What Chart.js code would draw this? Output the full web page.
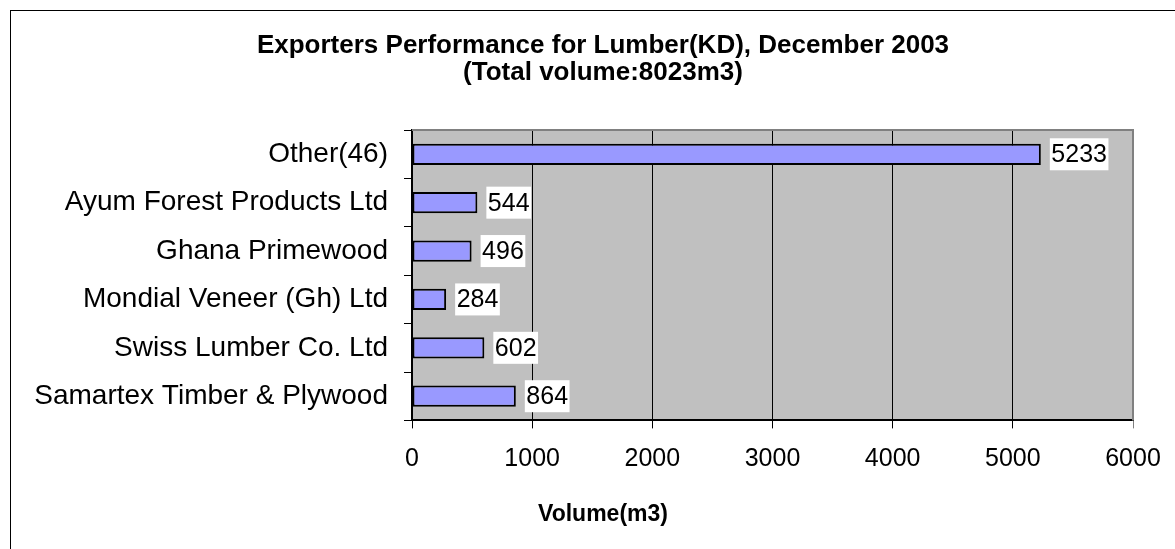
<!DOCTYPE html>
<html lang="en">

<head>
  <meta charset="UTF-8">
  <title>Exporters Performance for Lumber</title>
  <script src="https://cdn.jsdelivr.net/npm/chart.js@4/dist/chart.umd.min.js"></script>
</head>
<style>
  body { margin: 0; overflow: hidden; background: #fff; }
  #wrap { position: absolute; left: 0; top: 0; width: 1196px; height: 570px; }
</style>

<body>

  <div id="wrap">
    <canvas id="lumberChart"></canvas>
  </div>

  <script>
    const categories = ['Other(46)', 'Ayum Forest Products Ltd', 'Ghana Primewood',
      'Mondial Veneer (Gh) Ltd', 'Swiss Lumber Co. Ltd', 'Samartex Timber & Plywood'];
    const volumes = [5233, 544, 496, 284, 602, 864];
    const titleLines = ['Exporters Performance for Lumber(KD), December 2003', '(Total volume:8023m3)'];
    const axisTitle = 'Volume(m3)';
    const xMin = 0, xMax = 6000, xStep = 1000;

    Chart.defaults.font.family = '"Liberation Sans", Arial, sans-serif';
    Chart.defaults.color = '#000';

    // grey plot area, outer frame, value boxes
    const decor = {
      id: 'decor',
      beforeDraw(chart) {
        const { ctx, chartArea: a } = chart;
        ctx.save();
        ctx.fillStyle = '#fff';
        ctx.fillRect(0, 0, chart.width, chart.height);
        ctx.strokeStyle = '#000';
        ctx.lineWidth = 1;
        ctx.strokeRect(10.5, 10.5, chart.width, chart.height);
        ctx.fillStyle = '#c0c0c0';
        ctx.fillRect(a.left, a.top, a.right - a.left, a.bottom - a.top);
        ctx.restore();
      },
      beforeDatasetsDraw(chart) {
        const { ctx, chartArea: a } = chart;
        ctx.save();
        ctx.strokeStyle = '#808080';
        ctx.lineWidth = 2;
        ctx.beginPath();
        ctx.moveTo(a.left, a.top);
        ctx.lineTo(a.right, a.top);
        ctx.lineTo(a.right, a.bottom);
        ctx.stroke();
        ctx.restore();
      },
      afterDatasetsDraw(chart) {
        const { ctx } = chart;
        const meta = chart.getDatasetMeta(0);
        ctx.save();
        ctx.font = '25px "Liberation Sans", Arial, sans-serif';
        ctx.textBaseline = 'middle';
        meta.data.forEach((bar, i) => {
          const txt = String(volumes[i]);
          const w = ctx.measureText(txt).width;
          const x = bar.x + 9;
          ctx.fillStyle = '#fff';
          ctx.fillRect(x, bar.y - 16, w + 3, 32);
          ctx.fillStyle = '#000';
          ctx.fillText(txt, x + 1.5, bar.y + 1);
        });
        ctx.restore();
      }
    };

    new Chart('lumberChart', {
      type: 'bar',
      data: {
        labels: categories,
        datasets: [{
          data: volumes,
          backgroundColor: '#9999ff',
          borderColor: '#000',
          borderWidth: 2,
          borderSkipped: false,
          barPercentage: 0.44,
          categoryPercentage: 1
        }]
      },
      options: {
        indexAxis: 'y',
        responsive: true,
        maintainAspectRatio: false,
        animation: false,
        layout: { padding: { left: 10, top: 10, right: 0, bottom: 42 } },
        plugins: {
          legend: { display: false },
          tooltip: { enabled: false },
          title: {
            display: true,
            text: titleLines,
            font: { size: 26, weight: 'bold', lineHeight: 1.04 },
            padding: { top: 22, bottom: 44 }
          },
          subtitle: {
            display: true,
            position: 'bottom',
            text: axisTitle,
            font: { size: 23, weight: 'bold', lineHeight: 1.2 },
            padding: 0
          }
        },
        scales: {
          x: {
            min: xMin,
            max: xMax,
            ticks: { stepSize: xStep, font: { size: 25 }, padding: 16, maxRotation: 0, callback: v => String(v) },
            grid: {
              color: c => c.index === 6 ? '#808080' : '#000',
              lineWidth: 1,
              tickLength: 8
            },
            border: { color: '#000', width: 2 },
            afterFit: s => { s.height = 80; }
          },
          y: {
            ticks: { font: { size: 28 }, padding: 16 },
            grid: { drawOnChartArea: false, color: '#000', tickLength: 8 },
            border: { color: '#000', width: 2 },
            afterFit: s => { s.width = 402; }
          },
          // empty strip on the right so the chart area ends where the reference does
          yRight: {
            type: 'category',
            position: 'right',
            ticks: { display: false },
            grid: { display: false },
            border: { display: false },
            afterFit: s => { s.width = 63; }
          }
        }
      },
      plugins: [decor]
    });
  </script>
</body>

</html>
